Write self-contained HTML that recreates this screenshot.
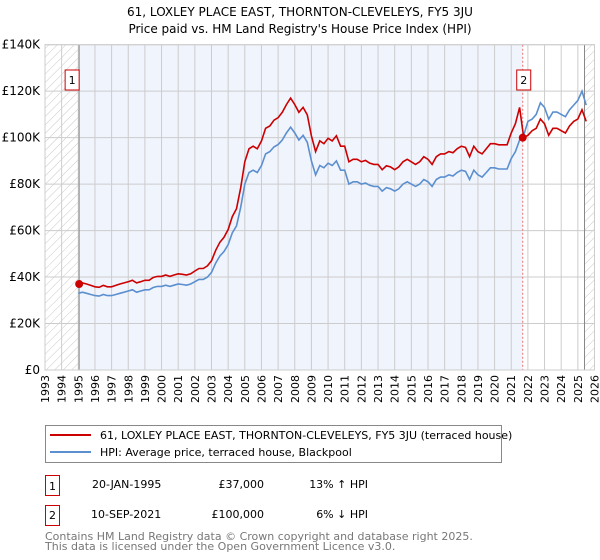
<!DOCTYPE html>
<html><head><meta charset="utf-8"><style>
body{margin:0;background:#fff;font-family:"DejaVu Sans","Liberation Sans",sans-serif;}
svg{display:block}
text{font-family:"DejaVu Sans","Liberation Sans",sans-serif;}
</style></head><body>
<svg id="chart" width="600" height="560">
<defs>
<pattern id="hatch" width="6" height="6" patternUnits="userSpaceOnUse" patternTransform="rotate(45)">
<line x1="0" y1="0" x2="0" y2="6" stroke="#bbb" stroke-width="0.8"/>
</pattern>
</defs>
<text x="300" y="16" text-anchor="middle" font-size="12">61, LOXLEY PLACE EAST, THORNTON-CLEVELEYS, FY5 3JU</text>
<text x="300" y="33" text-anchor="middle" font-size="12">Price paid vs. HM Land Registry's House Price Index (HPI)</text>
<g id="plot"></g>
<g>
<rect x="45.5" y="425.5" width="456" height="37" fill="#fff" stroke="#888"/>
<line x1="50" y1="435" x2="91" y2="435" stroke="#cc0000" stroke-width="2"/>
<text x="100" y="439" font-size="11">61, LOXLEY PLACE EAST, THORNTON-CLEVELEYS, FY5 3JU (terraced house)</text>
<line x1="50" y1="452" x2="91" y2="452" stroke="#5b8fd0" stroke-width="2"/>
<text x="100" y="456" font-size="11">HPI: Average price, terraced house, Blackpool</text>
</g>
<g font-size="11">
<rect x="45.5" y="475.5" width="14" height="20" fill="#fff" stroke="#cc0000"/>
<text x="52.5" y="490" text-anchor="middle">1</text>
<text x="92" y="488">20-JAN-1995</text>
<text x="264" y="488" text-anchor="end">£37,000</text>
<text x="368" y="488" text-anchor="end">13% ↑ HPI</text>
<rect x="45.5" y="505.5" width="14" height="20" fill="#fff" stroke="#cc0000"/>
<text x="52.5" y="519" text-anchor="middle">2</text>
<text x="91" y="518">10-SEP-2021</text>
<text x="264" y="518" text-anchor="end">£100,000</text>
<text x="368" y="518" text-anchor="end">6% ↓ HPI</text>
</g>
<text x="45" y="540" font-size="11" fill="#777">Contains HM Land Registry data © Crown copyright and database right 2025.</text>
<text x="45" y="550" font-size="11" fill="#777">This data is licensed under the Open Government Licence v3.0.</text>
</svg>
<script>
const yTicks=[0,20000,40000,60000,80000,100000,120000,140000];
const yTickLabels=["£0","£20K","£40K","£60K","£80K","£100K","£120K","£140K"];
const xYears=[1993,1994,1995,1996,1997,1998,1999,2000,2001,2002,2003,2004,2005,2006,2007,2008,2009,2010,2011,2012,2013,2014,2015,2016,2017,2018,2019,2020,2021,2022,2023,2024,2025,2026];
const seriesStart=1995.0;
const seriesStep=0.25;
const hpiValues=[33,33.5,33,32.5,32,31.8,32.5,32,32,32.5,33,33.5,34,34.5,33.5,34,34.5,34.5,35.5,36,36,36.5,36,36.5,37,36.8,36.5,37,38,39,39,40,42,46,49,51,54,59,62,70,80,85,86,85,88,93,94,96,97,99,102,104.5,102,99,101,98,90,84,88,87,89,88,90,86,86,80,81,81,80,80.5,79.5,79,79,77,78.5,78,77,78,80,81,80,79,80,82,81,79,82,83,83,84,83.5,85,86,85.5,82,86,84,83,85,87,87,86.5,86.5,86.5,91,94,99,101,107,108,110,115,113,108,111,111,110,109,112,114,116,120,114];
const priceValues=[37,37.5,37,36.4,35.8,35.6,36.4,35.8,35.8,36.4,37,37.5,38,38.6,37.5,38,38.6,38.6,39.8,40.3,40.3,40.9,40.3,40.9,41.4,41.2,40.9,41.4,42.6,43.7,43.7,44.8,47,51.5,54.9,57.1,60.5,66,69.4,78.4,89.6,95.2,96.3,95.2,98.6,104,105,107.5,108.6,110.9,114.2,117,114.2,110.9,113,109.8,100.8,94,98.6,97.4,99.7,98.6,100.8,96.3,96.3,89.6,90.7,90.7,89.6,90.2,89,88.5,88.5,86.2,87.9,87.4,86.2,87.4,89.6,90.7,89.6,88.5,89.6,91.8,90.7,88.5,91.8,93,93,94,93.5,95.2,96.3,95.8,91.8,96.3,94,93,95.2,97.4,97.4,96.9,96.9,96.9,102,106,113,100,101,103,104,108,106,101,104,104,103,102,105,107,108,112,107];
const saleYears=[1995.05,2021.69];
const salePrices=[37000,100000];
const saleLabels=["1","2"];

const X0=45,X1=594.5,Y0=370,Y1=44.7;
const xs=y=>X0+(y-1993)/(2026-1993)*(X1-X0);
const ys=v=>Y0-v/140000*(Y0-Y1);
const NS="http://www.w3.org/2000/svg";
const plot=document.getElementById('plot');
function mk(t,a){const e=document.createElementNS(NS,t);for(const k in a)e.setAttribute(k,a[k]);plot.appendChild(e);return e;}
let r;
r=mk('rect',{x:X0,y:Y1,width:X1-X0,height:Y0-Y1,fill:'#fff'});


r=mk('rect',{x:xs(saleYears[0]),y:Y1,width:xs(saleYears[1])-xs(saleYears[0]),height:Y0-Y1,fill:'#f0f4fd'});


r=mk('rect',{x:X0,y:Y1,width:xs(saleYears[0])-X0,height:Y0-Y1,fill:'url(#hatch)'});


r=mk('rect',{x:xs(2025.4),y:Y1,width:X1-xs(2025.4),height:Y0-Y1,fill:'url(#hatch)'});


xYears.forEach(yr=>{
 const l=mk('line',{x1:xs(yr),x2:xs(yr),y1:Y1,y2:Y0,stroke:'#ccc','stroke-width':1});
 
 
 const t=mk('text',{x:0,y:0,'font-size':11,'text-anchor':'end',transform:`translate(${xs(yr)+4},375) rotate(-90)`});
 t.textContent=yr;
 
 
});
yTicks.forEach((v,i)=>{
 const l=mk('line',{x1:X0,x2:X1,y1:ys(v),y2:ys(v),stroke:'#ccc','stroke-width':1});
 
 
 const t=mk('text',{x:40,y:ys(v)+4,'font-size':12,'text-anchor':'end'});
 t.textContent=yTickLabels[i];
 
 
});
r=mk('line',{x1:xs(saleYears[0]),x2:xs(saleYears[0]),y1:Y1,y2:Y0,stroke:'#888','stroke-width':1});


r=mk('line',{x1:xs(2025.4),x2:xs(2025.4),y1:Y1,y2:Y0,stroke:'#888','stroke-width':1});


r=mk('line',{x1:xs(saleYears[1]),x2:xs(saleYears[1]),y1:Y1,y2:Y0,stroke:'#f07070','stroke-width':1,'stroke-dasharray':'2,2'});


function path(vals,col,name){
 const d=vals.map((v,i)=>(i?'L':'M')+xs(seriesStart+i*seriesStep).toFixed(1)+','+ys(v*1000).toFixed(1)).join('');
 const p=mk('path',{d:d,fill:'none',stroke:col,'stroke-width':1.6});
 
 
}
path(hpiValues,'#5b8fd0','hpi-line');
path(priceValues,'#cc0000','price-line');
saleYears.forEach((yr,i)=>{
 const c=mk('circle',{cx:xs(yr),cy:ys(salePrices[i]),r:4,fill:'#cc0000'});
 
 
 const bx=xs(yr)-(i?6:14);
 const b=mk('rect',{x:bx,y:70,width:14,height:20,fill:'#fff',stroke:'#cc0000'});
 
 
 const t=mk('text',{x:bx+7,y:84,'font-size':11,'text-anchor':'middle'});
 t.textContent=saleLabels[i];
 
 
});
r=mk('rect',{x:X0,y:Y1,width:X1-X0,height:Y0-Y1,fill:'none',stroke:'#ccc'});


</script>
</body></html>
